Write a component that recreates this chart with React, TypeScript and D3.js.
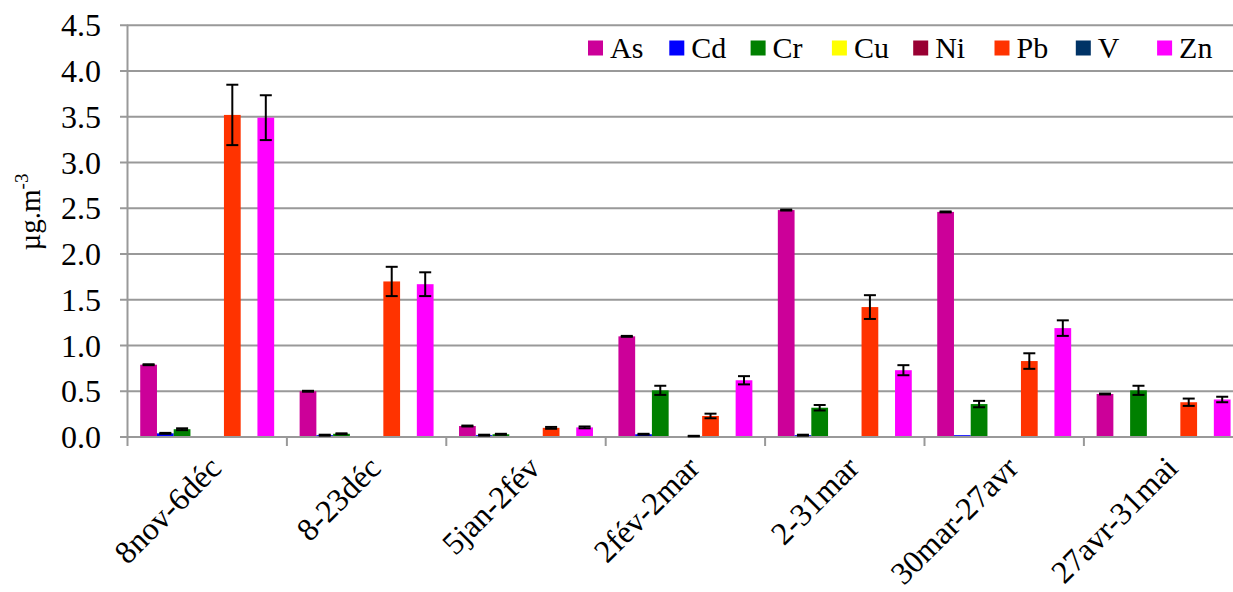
import React from "react";
import * as d3 from "d3";

const categories = ["8nov-6déc", "8-23déc", "5jan-2fév", "2fév-2mar", "2-31mar", "30mar-27avr", "27avr-31mai"];
const seriesNames = ["As", "Cd", "Cr", "Cu", "Ni", "Pb", "V", "Zn"];
const seriesColors = ["#CC0099", "#0000FF", "#008000", "#FFFF00", "#990033", "#FF3300", "#003366", "#FF00FF"];

const As = [0.79, 0.50, 0.12, 1.10, 2.48, 2.46, 0.47];
const AsErr = [0.005, 0.005, 0.005, 0.005, 0.005, 0.005, 0.005];
const Cd = [0.04, 0.02, 0.02, 0.03, 0.02, 0.02, 0.01];
const CdErr = [0.005, 0.005, 0.005, 0.005, 0.005, 0.0, 0.0];
const Cr = [0.085, 0.035, 0.03, 0.51, 0.32, 0.36, 0.51];
const CrErr = [0.01, 0.005, 0.005, 0.05, 0.03, 0.035, 0.05];
const Cu = [0.004, 0.002, 0.002, 0.002, 0.003, 0.003, 0.003];
const CuErr = [0, 0, 0, 0, 0, 0, 0];
const Ni = [0.005, 0.003, 0.003, 0.01, 0.003, 0.003, 0.003];
const NiErr = [0, 0, 0, 0.003, 0, 0, 0];
const Pb = [3.52, 1.70, 0.10, 0.23, 1.42, 0.83, 0.38];
const PbErr = [0.33, 0.16, 0.01, 0.025, 0.13, 0.085, 0.04];
const V = [0.003, 0.003, 0.003, 0.003, 0.003, 0.003, 0.003];
const VErr = [0, 0, 0, 0, 0, 0, 0];
const Zn = [3.49, 1.67, 0.105, 0.62, 0.73, 1.19, 0.41];
const ZnErr = [0.245, 0.13, 0.01, 0.045, 0.055, 0.085, 0.03];

const yTicks = [0, 0.5, 1.0, 1.5, 2.0, 2.5, 3.0, 3.5, 4.0, 4.5];

const W = 1233;
const H = 592;
const FONT = "Liberation Serif";
const GRID = "#999";

export default function App() {
  const values = [As, Cd, Cr, Cu, Ni, Pb, V, Zn];
  const errors = [AsErr, CdErr, CrErr, CuErr, NiErr, PbErr, VErr, ZnErr];
  const rows = categories.flatMap((c, ci) =>
    seriesNames.map((s, si) => ({ c, s, si, v: values[si][ci], e: errors[si][ci] }))
  );

  const x0 = d3.scaleBand<string>().domain(categories).range([127.5, 127.5 + 7 * 159.4]).paddingInner(0).paddingOuter(0);
  const x1 = d3.scaleBand<string>().domain(seriesNames).range([0, x0.bandwidth()]).paddingInner(0).paddingOuter(0.76);
  const y = d3.scaleLinear().domain([0, 4.5]).range([437, 25.25]);
  const color = d3.scaleOrdinal<string, string>().domain(seriesNames).range(seriesColors);
  const bw = x1.bandwidth();

  return (
    <div style={{ position: "absolute", left: 0, top: 0 }}>
      <svg width={W} height={H} style={{ display: "block", fontFamily: FONT }}>
        <rect width={W} height={H} fill="#fff" />
        {yTicks.filter((t) => t > 0).map((t) => (
          <line key={"g" + t} x1={127.5} x2={W} y1={y(t)} y2={y(t)} stroke={GRID} strokeWidth={2} />
        ))}
        <line x1={127.5} x2={127.5} y1={y(4.5)} y2={y(0)} stroke={GRID} strokeWidth={2} />
        {yTicks.map((t) => (
          <g key={"t" + t}>
            <line x1={120} x2={128} y1={y(t)} y2={y(t)} stroke={GRID} strokeWidth={2} />
            <text x={101} y={y(t)} dy="0.35em" textAnchor="end" fontSize={32} fill="#000" style={{ fontFamily: FONT }}>
              {t.toFixed(1)}
            </text>
          </g>
        ))}
        <text transform="translate(40,212) rotate(-90)" textAnchor="middle" fontSize={29} fill="#000" style={{ fontFamily: FONT }}>
          <tspan>µg.m</tspan>
          <tspan dy={-12} fontSize={19}>-3</tspan>
        </text>
        {rows.map((d) => (
          <rect
            key={d.c + d.s}
            x={(x0(d.c) as number) + (x1(d.s) as number)}
            width={bw}
            y={y(d.v)}
            height={y(0) - y(d.v)}
            fill={color(d.s)}
          />
        ))}
        <line x1={127.5} x2={W} y1={y(0)} y2={y(0)} stroke={GRID} strokeWidth={2} />
        {categories.map((c) => (
          <line key={"b" + c} x1={x0(c) as number} x2={x0(c) as number} y1={y(0)} y2={y(0) + 9} stroke={GRID} strokeWidth={2} />
        ))}
        <g stroke="#000" strokeWidth={2}>
          {rows.filter((d) => d.e > 0).map((d) => {
            const cx = (x0(d.c) as number) + (x1(d.s) as number) + bw / 2;
            const yt = y(d.v + d.e);
            const yb = y(Math.max(0, d.v - d.e));
            return (
              <g key={"e" + d.c + d.s}>
                <line x1={cx} x2={cx} y1={yt} y2={yb} />
                <line x1={cx - 6} x2={cx + 6} y1={yt} y2={yt} />
                <line x1={cx - 6} x2={cx + 6} y1={yb} y2={yb} />
              </g>
            );
          })}
        </g>
        {categories.map((c) => (
          <text
            key={"c" + c}
            transform={`translate(${(x0(c) as number) + x0.bandwidth() / 2 + 8},462) rotate(-45)`}
            textAnchor="end"
            dy="0.35em"
            fontSize={32}
            fill="#000"
            style={{ fontFamily: FONT }}
          >
            {c}
          </text>
        ))}
        {seriesNames.map((s, i) => (
          <g key={"l" + s} transform={`translate(${588 + i * 81.3},48)`}>
            <rect x={0} y={-7.5} width={15} height={15} fill={color(s)} />
            <text x={22} y={10} fontSize={30} fill="#000" style={{ fontFamily: FONT }}>
              {s}
            </text>
          </g>
        ))}
      </svg>
    </div>
  );
}
